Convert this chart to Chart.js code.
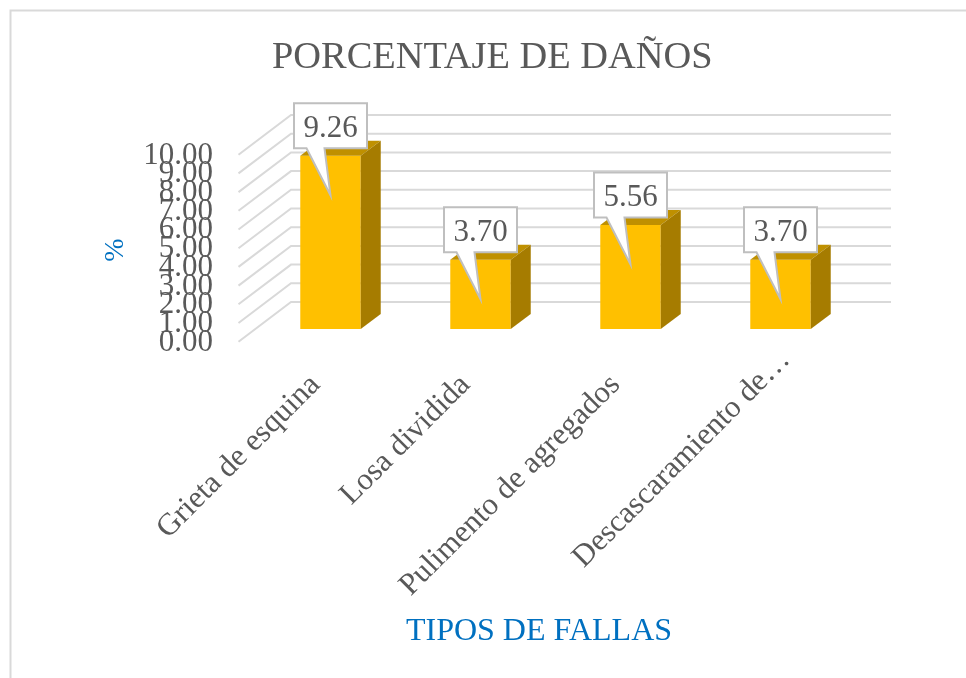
<!DOCTYPE html>
<html><head><meta charset="utf-8">
<style>html,body{margin:0;padding:0;background:#fff}canvas{display:block}</style>
<script src="https://cdn.jsdelivr.net/npm/chart.js@4"></script></head>
<body><div style="width:966px;height:678px"><canvas id="c" width="966" height="678"></canvas></div>
<script>
const categories = ["Grieta de esquina","Losa dividida","Pulimento de agregados","Descascaramiento de…"];
const damagePercent = [9.26,3.70,5.56,3.70];
const chartTitle = "PORCENTAJE DE DAÑOS";
const xAxisTitle = "TIPOS DE FALLAS";
const yAxisTitle = "%";
const SERIF = "'Liberation Serif'";
const GRID='#D9D9D9', TEXT='#595959', BLUE='#0070C0';
const wall = {fx:-17, fy:12.7, bx:35.5, by:-27};
const depth = {dx:20, dy:-15};

const scene = {
  id:'scene',
  afterLayout(chart){
    const t = chart.titleBlock;
    t.right += 129;
    const items = chart.scales.x.getLabelItems(chart.chartArea);
    items[3].options.translation[0] += 20;
    items[3].options.translation[1] -= 25;
  },
  beforeDatasetsDraw(chart){
    const c = chart.ctx, {left,right} = chart.chartArea, y = chart.scales.y;
    c.save();
    c.strokeStyle=GRID; c.lineWidth=2;
    c.beginPath(); c.moveTo(966,10.5); c.lineTo(10.5,10.5); c.lineTo(10.5,678); c.stroke();
    y.ticks.forEach(t=>{
      const py=y.getPixelForValue(t.value);
      c.beginPath();
      c.moveTo(left+wall.fx,py+wall.fy);
      c.lineTo(left+wall.bx,py+wall.by);
      c.lineTo(right+wall.bx,py+wall.by);
      c.stroke();
    });
    c.restore();
  },
  afterDatasetsDraw(chart){
    const c = chart.ctx, bars = chart.getDatasetMeta(0).data;
    c.save();
    bars.forEach((b,i)=>{
      const l=b.x-b.width/2, r=b.x+b.width/2, top=b.y, base=b.base;
      c.fillStyle='#BF9000';
      c.beginPath(); c.moveTo(l,top); c.lineTo(l+depth.dx,top+depth.dy); c.lineTo(r+depth.dx,top+depth.dy); c.lineTo(r,top); c.closePath(); c.fill();
      c.fillStyle='#A67C00';
      c.beginPath(); c.moveTo(r,top); c.lineTo(r+depth.dx,top+depth.dy); c.lineTo(r+depth.dx,base+depth.dy); c.lineTo(r,base); c.closePath(); c.fill();
    });
    bars.forEach((b,i)=>{
      const x=b.x, top=b.y;
      const L=x-36.5,R=x+36.5,T=top-52.5,B=top-7.5;
      c.beginPath();
      c.moveTo(L,T); c.lineTo(R,T); c.lineTo(R,B);
      c.lineTo(x-6,B); c.lineTo(x,top+39.5); c.lineTo(x-24,B); c.lineTo(L,B); c.closePath();
      c.fillStyle='#fff'; c.fill();
      c.strokeStyle='#BFBFBF'; c.lineWidth=2; c.lineJoin='miter'; c.stroke();
      c.fillStyle=TEXT; c.font='31px '+SERIF; c.textAlign='center'; c.textBaseline='middle';
      c.fillText(damagePercent[i].toFixed(2),x,(T+B)/2+3);
    });
    c.fillStyle=BLUE; c.textAlign='center'; c.textBaseline='middle';
    c.font='32px '+SERIF;
    c.fillText(xAxisTitle,539,632);
    c.translate(116,250); c.rotate(-Math.PI/2);
    c.font='28px '+SERIF;
    c.fillText(yAxisTitle,0,0);
    c.restore();
  }
};

new Chart(document.getElementById('c'),{
  type:'bar',
  data:{labels:categories,datasets:[{data:damagePercent,backgroundColor:'#FFC000',barPercentage:0.403,categoryPercentage:1}]},
  options:{
    responsive:false,animation:false,
    layout:{padding:{left:0,right:110.5,top:0,bottom:0}},
    plugins:{
      legend:{display:false},tooltip:{enabled:false},
      title:{display:true,text:chartTitle,color:TEXT,font:{family:SERIF,size:38.4,weight:'normal',lineHeight:1.2},padding:{top:35,bottom:60.9}}
    },
    scales:{
      x:{
        grid:{display:false,drawTicks:false},border:{display:false},
        ticks:{color:TEXT,font:{family:SERIF,size:31},minRotation:45,maxRotation:45,autoSkip:false,padding:38,labelOffset:-15},
        afterFit(s){s.height=349;}
      },
      y:{
        min:0,max:10,
        grid:{display:false,drawTicks:false},border:{display:false},
        ticks:{stepSize:1,color:TEXT,font:{family:SERIF,size:31},padding:42.5,labelOffset:13.5,autoSkip:false,callback:v=>v.toFixed(2)},
        afterFit(s){s.width=255.5;}
      }
    }
  },
  plugins:[scene]
});
</script></body></html>
